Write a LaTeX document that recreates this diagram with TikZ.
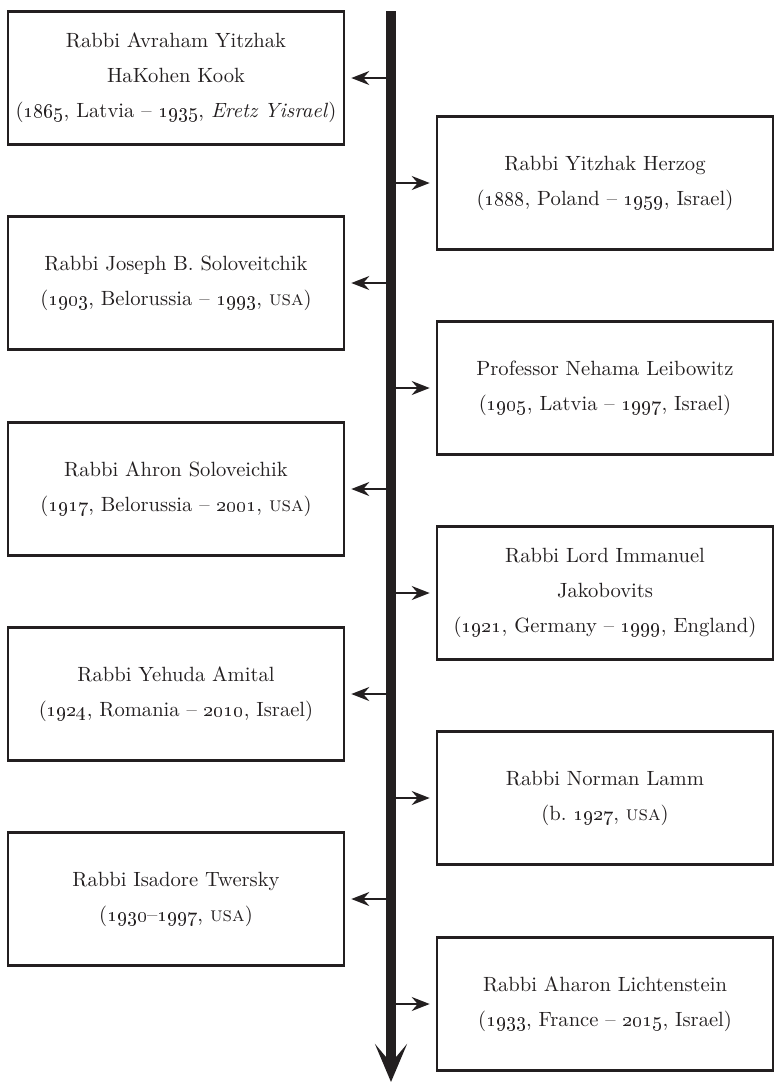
\documentclass[tikz,border=0pt]{standalone}
\usetikzlibrary{arrows.meta}
\definecolor{ink}{HTML}{231F20}
\newcommand{\yr}[1]{\oldstylenums{#1}}
\begin{document}
\begin{tikzpicture}[x=0.5pt, y=-0.5pt,
        entry/.style={draw=ink, line width=1.3pt, minimum width=168pt, minimum height=66.5pt,
            inner xsep=1pt, inner ysep=2pt, text width=166pt, align=center, text=ink,
            font=\fontsize{10.3}{17.5}\selectfont},
        branch/.style={draw=ink, line width=1pt, -{Stealth[length=9pt, width=7pt, inset=3pt]}, shorten >=3pt},
        spine/.style={draw=ink, line width=5pt, -{Stealth[length=19pt, width=16pt, inset=9.5pt]}}]
    \useasboundingbox (0,0) rectangle (773,1084);
    % the time line
    \coordinate (top) at (391,11);
    \coordinate (end) at (391,1082);
    \draw [spine] (top) -- (end);
    % left column
    \node [entry] (kook) at (176,78) {Rabbi Avraham Yitzhak\\HaKohen Kook\\(\yr{1865}, Latvia -- \yr{1935}, \textit{Eretz Yisrael})};
    \node [entry] (joseph) at (176,283) {Rabbi Joseph B. Soloveitchik\\(\yr{1903}, Belorussia -- \yr{1993}, \textsc{usa})};
    \node [entry] (ahron) at (176,489) {Rabbi Ahron Soloveichik\\(\yr{1917}, Belorussia -- \yr{2001}, \textsc{usa})};
    \node [entry] (amital) at (176,694) {Rabbi Yehuda Amital\\(\yr{1924}, Romania -- \yr{2010}, Israel)};
    \node [entry] (twersky) at (176,899) {Rabbi Isadore Twersky\\(\yr{1930}--\yr{1997}, \textsc{usa})};
    % right column
    \node [entry] (herzog) at (605,183) {Rabbi Yitzhak Herzog\\(\yr{1888}, Poland -- \yr{1959}, Israel)};
    \node [entry] (nehama) at (605,388) {Professor Nehama Leibowitz\\(\yr{1905}, Latvia -- \yr{1997}, Israel)};
    \node [entry] (jakobovits) at (605,593) {Rabbi Lord Immanuel\\Jakobovits\\(\yr{1921}, Germany -- \yr{1999}, England)};
    \node [entry] (lamm) at (605,798) {Rabbi Norman Lamm\\(b.\ \yr{1927}, \textsc{usa})};
    \node [entry] (lichtenstein) at (605,1004) {Rabbi Aharon Lichtenstein\\(\yr{1933}, France -- \yr{2015}, Israel)};
    \foreach \n in {kook, joseph, ahron, amital, twersky}
        \draw [branch] (top |- \n.east) -- (\n.east);
    \foreach \n in {herzog, nehama, jakobovits, lamm, lichtenstein}
        \draw [branch] (top |- \n.west) -- (\n.west);
\end{tikzpicture}
\end{document}
